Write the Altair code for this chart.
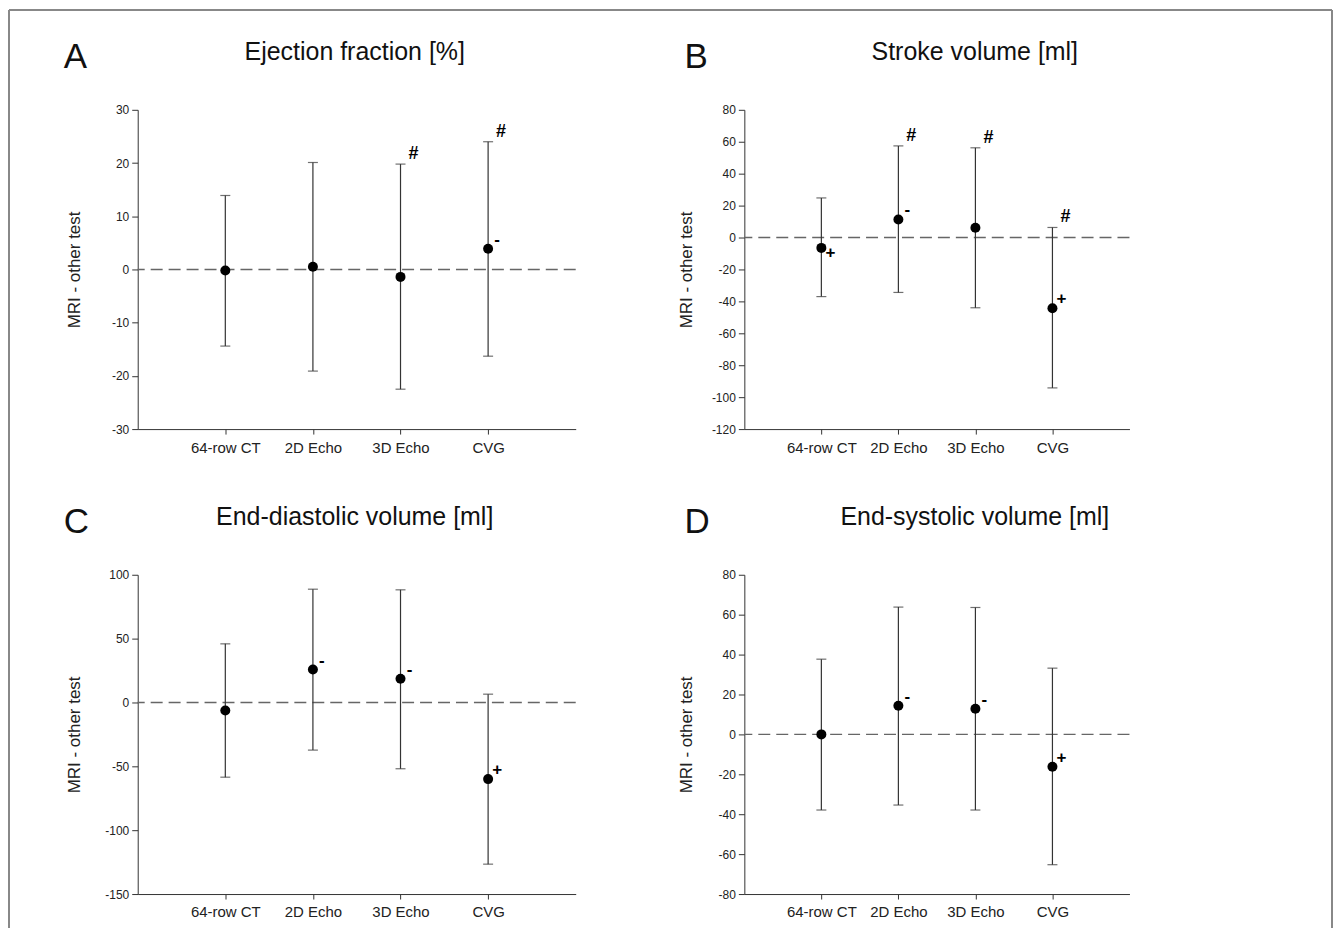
import altair as alt
import pandas as pd

categories = ["64-row CT", "2D Echo", "3D Echo", "CVG"]

# Panel A: Ejection fraction [%]
ef_mean = [-0.2, 0.5, -1.4, 3.9]
ef_low = [-14.4, -19.1, -22.5, -16.3]
ef_high = [13.9, 20.1, 19.8, 24.0]
ef_top_mark = ["", "", "#", "#"]
ef_mean_mark = ["", "", "", "-"]
ef_below_mark = ["", "", "", ""]

# Panel B: Stroke volume [ml]
sv_mean = [-6.5, 11.3, 6.1, -44.3]
sv_low = [-37.0, -34.4, -44.0, -94.2]
sv_high = [24.8, 57.4, 56.2, 6.3]
sv_top_mark = ["", "#", "#", "#"]
sv_mean_mark = ["", "-", "", "+"]
sv_below_mark = ["+", "", "", ""]

# Panel C: End-diastolic volume [ml]
edv_mean = [-6.3, 25.8, 18.5, -60.0]
edv_low = [-58.5, -37.3, -51.9, -126.6]
edv_high = [45.9, 88.7, 88.2, 6.5]
edv_top_mark = ["", "", "", ""]
edv_mean_mark = ["", "-", "-", "+"]
edv_below_mark = ["", "", "", ""]

# Panel D: End-systolic volume [ml]
esv_mean = [0.0, 14.4, 12.9, -16.2]
esv_low = [-37.9, -35.4, -37.9, -65.3]
esv_high = [37.7, 63.8, 63.6, 33.2]
esv_top_mark = ["", "", "", ""]
esv_mean_mark = ["", "-", "-", "+"]
esv_below_mark = ["", "", "", ""]

ef_domain, ef_ticks = [-30, 30], [-30, -20, -10, 0, 10, 20, 30]
sv_domain, sv_ticks = [-120, 80], [-120, -100, -80, -60, -40, -20, 0, 20, 40, 60, 80]
edv_domain, edv_ticks = [-150, 100], [-150, -100, -50, 0, 50, 100]
esv_domain, esv_ticks = [-80, 80], [-80, -60, -40, -20, 0, 20, 40, 60, 80]

FONT = "Liberation Sans"
H = 320
WIDTHS = [439, 386]
LETTER_X = [-74, -60]
TITLE_DX = [-2, 38]
YTITLE_X = [-63, -58]
BAR_COLOR = "#333333"


def panel(col, letter, title, mean, low, high, top_mark, mean_mark, below_mark,
          domain, ticks, frame=False):
    W = WIDTHS[col]
    df = pd.DataFrame({
        "cat": categories, "mean": mean, "low": low, "high": high,
        "top": top_mark, "above": mean_mark, "below": below_mark,
    })
    base = alt.Chart(df)
    x_axis = alt.Axis(title=None, labelAngle=0, labelFontSize=15, tickSize=5,
                      labelPadding=6, domainColor="#333", tickColor="#333",
                      labelColor="#222", grid=False)
    x = alt.X("cat:N", scale=alt.Scale(type="point", padding=1, domain=categories),
              sort=categories, axis=x_axis)
    y_scale = alt.Scale(domain=domain, nice=False, zero=False)
    y_axis = alt.Axis(values=ticks, tickSize=6, labelPadding=3, labelFontSize=12,
                      labelColor="#222", domainColor="#333", tickColor="#333",
                      grid=False, titleFontSize=17, titleFontWeight="normal",
                      titleColor="#222", titleX=YTITLE_X[col], titleY=H / 2,
                      titleBaseline="middle",
                      labelExpr="replace(datum.label, '\u2212', '-')")

    def Y(field):
        return alt.Y(field, scale=y_scale, axis=y_axis, title="MRI - other test")

    zero = alt.Chart(pd.DataFrame({"z": [0]})).mark_rule(
        color="#666", strokeDash=[12, 6], strokeWidth=1.4
    ).encode(y=Y("z:Q"))
    bars = base.mark_rule(color=BAR_COLOR, strokeWidth=1.2).encode(
        x=x, y=Y("low:Q"), y2="high:Q")
    cap_lo = base.mark_tick(color=BAR_COLOR, size=10, thickness=1.2).encode(
        x=x, y=Y("low:Q"))
    cap_hi = base.mark_tick(color=BAR_COLOR, size=10, thickness=1.2).encode(
        x=x, y=Y("high:Q"))
    pts = base.mark_circle(size=100, color="black", opacity=1).encode(
        x=x, y=Y("mean:Q"))
    t_top = base.transform_filter("datum.top != ''").mark_text(
        font=FONT, fontSize=18, fontWeight="bold", dx=13, dy=-10, color="black"
    ).encode(x=x, y=Y("high:Q"), text="top:N")
    t_above = base.transform_filter("datum.above != ''").mark_text(
        font=FONT, fontSize=17, fontWeight="bold", dx=9, dy=-9, color="black"
    ).encode(x=x, y=Y("mean:Q"), text="above:N")
    t_below = base.transform_filter("datum.below != ''").mark_text(
        font=FONT, fontSize=17, fontWeight="bold", dx=9, dy=5, color="black"
    ).encode(x=x, y=Y("mean:Q"), text="below:N")

    head = alt.Chart(pd.DataFrame({"t": [title]})).mark_text(
        font=FONT, fontSize=25, color="#111", align="center", baseline="alphabetic"
    ).encode(x=alt.value(W / 2 + TITLE_DX[col]), y=alt.value(-50), text="t:N")
    let = alt.Chart(pd.DataFrame({"t": [letter]})).mark_text(
        font=FONT, fontSize=35, color="#111", align="left", baseline="alphabetic"
    ).encode(x=alt.value(LETTER_X[col]), y=alt.value(-42), text="t:N")

    layers = [zero, bars, cap_lo, cap_hi, pts, t_top, t_above, t_below, head, let]
    if frame:
        one = alt.Chart(pd.DataFrame({"e": [1]}))
        fl = one.mark_rule(color="#888", strokeWidth=2).encode(
            x=alt.value(-129), y=alt.value(-100), y2=alt.value(820))
        ft = one.mark_rule(color="#888", strokeWidth=2).encode(
            x=alt.value(-129), x2=alt.value(1197), y=alt.value(-100))
        fr = one.mark_rule(color="#888", strokeWidth=2).encode(
            x=alt.value(1197), y=alt.value(-100), y2=alt.value(820))
        layers = [fl, ft, fr] + layers
    return alt.layer(*layers).properties(width=W, height=H)


pA = panel(0, "A", "Ejection fraction [%]", ef_mean, ef_low, ef_high, ef_top_mark,
           ef_mean_mark, ef_below_mark, ef_domain, ef_ticks, frame=True)
pB = panel(1, "B", "Stroke volume [ml]", sv_mean, sv_low, sv_high, sv_top_mark,
           sv_mean_mark, sv_below_mark, sv_domain, sv_ticks)
pC = panel(0, "C", "End-diastolic volume [ml]", edv_mean, edv_low, edv_high, edv_top_mark,
           edv_mean_mark, edv_below_mark, edv_domain, edv_ticks)
pD = panel(1, "D", "End-systolic volume [ml]", esv_mean, esv_low, esv_high, esv_top_mark,
           esv_mean_mark, esv_below_mark, esv_domain, esv_ticks)

chart = alt.concat(pA, pB, pC, pD, columns=2, align="each",
                   spacing={"row": 146, "column": 169}, bounds="flush").properties(
    padding=0
).configure(
    font=FONT, background="white"
).configure_view(strokeWidth=0, stroke=None)

chart.save("out.html", embed_options={"renderer": "svg", "actions": False})
